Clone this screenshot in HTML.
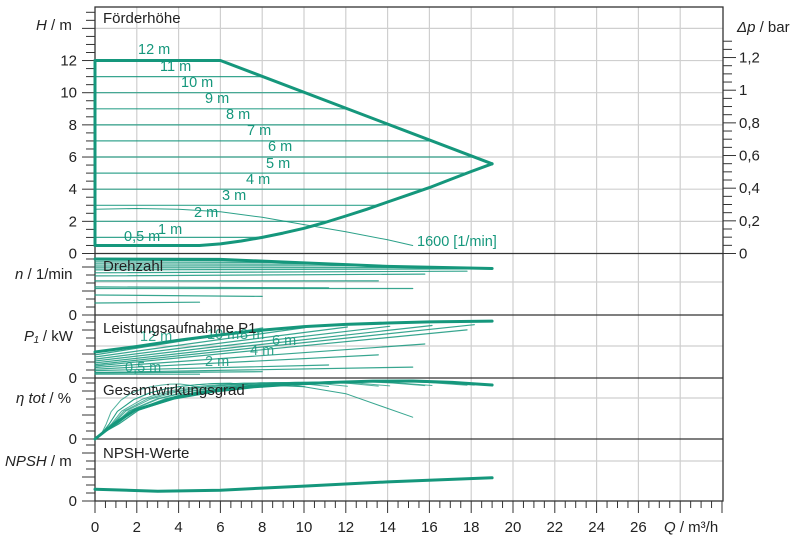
<!DOCTYPE html>
<html><head><meta charset="utf-8"><style>
html,body{margin:0;padding:0;background:#fff}
svg{display:block;font-family:"Liberation Sans",sans-serif}
</style></head><body>
<svg id="c" width="800" height="546" viewBox="0 0 800 546" xmlns="http://www.w3.org/2000/svg"></svg>
<script>
// ---- data ----
const qTicks = [0,2,4,6,8,10,12,14,16,18,20,22,24,26];
const hTicks = [0,2,4,6,8,10,12];
const pTicks = ["0","0,2","0,4","0,6","0,8","1","1,2"];
const pTickVals = [0,0.2,0.4,0.6,0.8,1,1.2];
const heads = [11,10,9,8,7,6,5,4,3,2,1,0.5];
const upperQ = [0,6,19];
const upperH = [12,12,5.58];
const lowerQ = [0,5,6,7,8,9,10,11,12,13,14,15,16,17,18,19];
const lowerH = [0.5,0.5,0.6,0.78,1.0,1.27,1.57,1.93,2.33,2.75,3.2,3.65,4.1,4.6,5.1,5.58];
const curve1600Q = [0,2,4,6,8,10,12,14,15.2];
const curve1600H = [2.75,2.8,2.75,2.6,2.25,1.8,1.35,0.85,0.5];
// speed (rpm)
const nThickQ = [0,6,10,14,19];
const nThickV = [2710,2690,2520,2350,2250];
const nStart = [2660,2570,2470,2370,2280,2180,2040,1890,1650,1360,970,580];
const nEnd =   [2620,2540,2460,2380,2300,2230,2120,1980,1650,1310,900,620];
// power (kW)
const pThickQ = [0,2,4,6,8,10,12,14,16,19];
const pThickV = [0.124,0.150,0.180,0.205,0.228,0.245,0.255,0.262,0.267,0.271];
const pStart = [0.110,0.100,0.090,0.081,0.072,0.064,0.057,0.050,0.042,0.035,0.024,0.018];
const pEnd =   [0.238,0.240,0.243,0.246,0.250,0.254,0.229,0.162,0.110,0.062,0.030,0.018];
// efficiency (%)
const etaRel = [0,0.05,0.1,0.2,0.3,0.4,0.5,0.6,0.7,0.8,0.9,1.0];
const etaBase = [0,9,16.5,23.5,27.5,30,31.5,32.5,33.2,33.3,32.5,31];
const eta1600Q = [0.3,2,4,6,8,10,12,15.2];
const eta1600V = [3,17,25,29,31,30,26,12.5];
// NPSH (m)
const npshQ = [0,3,6,10,14,19];
const npshV = [1.15,0.95,1.05,1.45,1.85,2.25];

const svg = document.getElementById('c');
const NS='http://www.w3.org/2000/svg';
const TEAL='#15977c';
function el(tag,attrs,parent){const e=document.createElementNS(NS,tag);for(const k in attrs)e.setAttribute(k,attrs[k]);(parent||svg).appendChild(e);return e;}
function txt(s,x,y,attrs){const e=el('text',Object.assign({x:x,y:y},attrs||{}));e.textContent=s;return e;}

const X0=95, XPX=20.9;
const X=q=>X0+q*XPX;
const HY=h=>253.5-h*16.08;
const NY=n=>315-n*0.02067;
const PY=p=>378-p*210;
const EY=e=>439-e*1.743;
const SY=v=>501-v*10.3;
function invLower(h){for(let i=1;i<lowerH.length-1;i++){if(h>=lowerH[i]&&h<=lowerH[i+1])return lowerQ[i]+(lowerQ[i+1]-lowerQ[i])*(h-lowerH[i])/(lowerH[i+1]-lowerH[i]);}return 19;}
function invUpper(h){return 6+(12-h)*(19-6)/(12-5.58);}
const qEnds = heads.map(h=> h>5.58?invUpper(h): (h<=0.5?5:invLower(h)));

const grid=el('g',{stroke:'#cfcfcf','stroke-width':1.2});


for(let q=2;q<=28;q+=2){el('line',{x1:X(q),x2:X(q),y1:7,y2:501},grid);}
for(let h=2;h<=14;h+=2){el('line',{x1:X0,x2:723,y1:HY(h),y2:HY(h)},grid);}
[282,346,398,461].forEach(y=>el('line',{x1:X0,x2:723,y1:y,y2:y},grid));

el('rect',{x:X0,y:7,width:628,height:494,fill:'none',stroke:'#333','stroke-width':1.3,});
[253.5,315,378,439].forEach(y=>el('line',{x1:X0,x2:723,y1:y,y2:y,stroke:'#333','stroke-width':1.3,}));

const tk=el('g',{stroke:'#333','stroke-width':1});


for(let h=0;h<=15;h+=0.5){const y=HY(h);if(y<9)continue;el('line',{x1:h%2===0?82:86,x2:X0,y1:y,y2:y},tk);}
[[253.5,315],[315,378],[378,439],[439,501]].forEach(([a,b])=>{for(let y=b;y>a+3;y-=8){el('line',{x1:(b-y)%24===0?82:86,x2:X0,y1:y,y2:y},tk);}});
for(let p=0;p<=1.35;p+=0.05){const y=253.5-p*163.3;if(y<9)continue;const major=Math.abs(p*5-Math.round(p*5))<1e-6;el('line',{x1:723,x2:major?736:732,y1:y,y2:y,stroke:'#333','stroke-width':1});}
for(let q=0;q<=30;q+=0.5){const major=q%2===0;el('line',{x1:X(q),x2:X(q),y1:501,y2:major?513:508,stroke:'#333','stroke-width':1});}

hTicks.forEach(h=>{const t=txt(String(h),77,HY(h)+5,{'font-size':15,'text-anchor':'end',fill:'#222'});});
[315,378,439,501].forEach(y=>{const t=txt('0',77,y+5,{'font-size':15,'text-anchor':'end',fill:'#222'});});
pTicks.forEach((s,i)=>{const t=txt(s,739,253.5-pTickVals[i]*163.3+5,{'font-size':15,fill:'#222'});});
qTicks.forEach(q=>{const t=txt(String(q),X(q),532,{'font-size':15,'text-anchor':'middle',fill:'#222'});});

svg.insertAdjacentHTML('beforeend',`
<text x="36" y="30" font-size="15" fill="#222"><tspan font-style="italic">H</tspan> / m</text>
<text x="737" y="32" font-size="15" fill="#222"><tspan font-style="italic">Δp</tspan> / bar</text>
<text x="15" y="279" font-size="15" fill="#222"><tspan font-style="italic">n</tspan> / 1/min</text>
<text x="24" y="341" font-size="15" fill="#222"><tspan font-style="italic">P₁</tspan> / kW</text>
<text x="16" y="403" font-size="15" fill="#222"><tspan font-style="italic">η tot</tspan> / %</text>
<text x="5" y="466" font-size="15" fill="#222"><tspan font-style="italic">NPSH</tspan>  / m</text>
<text x="664" y="532" font-size="15" fill="#222"><tspan font-style="italic">Q</tspan> / m³/h</text>
`);

function poly(xs,ys,sx,sy,w,name,op){const pts=xs.map((q,i)=>sx(q).toFixed(1)+','+sy(ys[i]).toFixed(1)).join(' ');const p=el('polyline',{points:pts,fill:'none',stroke:TEAL,'stroke-width':w,'stroke-linejoin':'round','stroke-linecap':'round',opacity:op||1});return p;}

heads.forEach((h,i)=>{poly([0,qEnds[i]],[h,h],X,HY,1.2,'head-line-'+h,0.85);});
poly(curve1600Q,curve1600H,X,HY,1,'curve-1600-rpm',0.9);
poly(upperQ.slice().reverse(),upperH.slice().reverse(),X,HY,3,'max-head-curve');
poly([0,0],[0.5,12],X,HY,3,'left-boundary');
poly(lowerQ,lowerH,X,HY,3,'min-head-curve');
const hl=[['12 m',138,54],['11 m',160,71],['10 m',181,87],['9 m',205,103],['8 m',226,119],['7 m',247,135],['6 m',268,151],['5 m',266,168],['4 m',246,184],['3 m',222,200],['2 m',194,217],['1 m',158,234],['0,5 m',124,241]];
hl.forEach(([s,x,y])=>{const t=txt(s,x,y,{'font-size':14.5,fill:TEAL});});
{const t=txt('1600 [1/min]',417,246,{'font-size':14.5,fill:TEAL});}

heads.forEach((h,i)=>poly([0,qEnds[i]],[nStart[i],nEnd[i]],X,NY,1.2,'speed-line-'+h,0.85));
poly([0,15.2],[1280,1280],X,NY,1.2,'speed-line-1600',0.85);
poly(nThickQ,nThickV,X,NY,3,'speed-max-curve');

heads.forEach((h,i)=>poly([0,qEnds[i]],[pStart[i],pEnd[i]],X,PY,1.2,'power-line-'+h,0.85));
poly([0,15.2],[0.026,0.052],X,PY,1.2,'power-line-1600',0.85);
poly(pThickQ,pThickV,X,PY,3,'power-max-curve');
const pl=[['12 m',140,341],['10 m',207,339],['8 m',240,339],['6 m',272,345],['4 m',250,355],['2 m',205,366],['0,5 m',125,372]];
pl.forEach(([s,x,y])=>{const t=txt(s,x,y,{'font-size':14.5,fill:TEAL,opacity:0.85});});

heads.forEach((h,i)=>{const qe=qEnds[i];const qs=etaRel.map(r=>0.3+r*(qe-0.3));poly(qs,etaBase.map((v,j)=>(j===0?3:v)*(0.93+0.07*qe/19)),X,EY,1,'eta-line-'+h,0.75);});
poly(eta1600Q,eta1600V,X,EY,1,'eta-line-1600',0.85);
poly(etaRel.map(r=>r*19),etaBase,X,EY,3,'eta-max-curve');

poly(npshQ,npshV,X,SY,3,'npsh-curve');

[['Förderhöhe',23],['Drehzahl',271],['Leistungsaufnahme P1',333],['Gesamtwirkungsgrad',395],['NPSH-Werte',458]].forEach(([s,y])=>{const t=txt(s,103,y,{'font-size':15,fill:'#222'});});
</script>
</body></html>
